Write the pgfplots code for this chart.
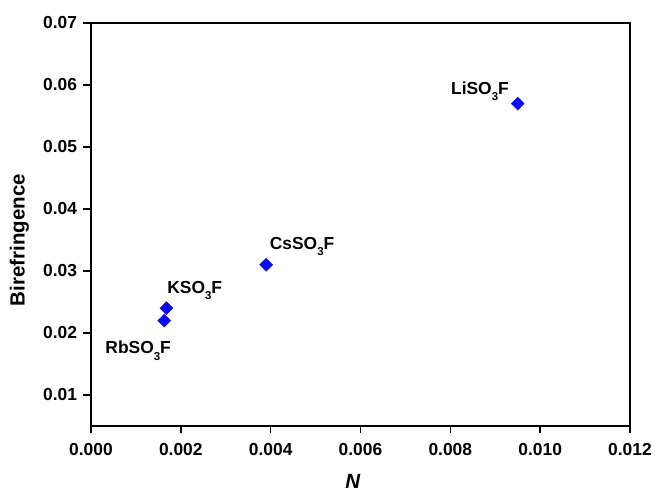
\documentclass[border=0pt]{standalone}
\usepackage{fontspec}
\setmainfont{Liberation Sans}
\usepackage{pgfplots}
\pgfplotsset{compat=1.18}
\newcommand\sub[1]{\raisebox{-6.5pt}{\fontsize{11.5}{12}\selectfont #1}}
\begin{document}
\begin{tikzpicture}[x=1pt,y=1pt]
\begin{axis}[
  name=ax,
  scale only axis,
  width=539pt, height=403pt,
  xmin=0, xmax=0.012, ymin=0.005, ymax=0.07,
  xtick={0,0.002,0.004,0.006,0.008,0.010,0.012},
  ytick={0.01,0.02,0.03,0.04,0.05,0.06,0.07},
  scaled ticks=false,
  /pgf/number format/assume math mode=true,
  xticklabel style={/pgf/number format/.cd,fixed,fixed zerofill,precision=3,/tikz/.cd,yshift=-6pt},
  yticklabel style={/pgf/number format/.cd,fixed,fixed zerofill,precision=2,/tikz/.cd,xshift=-3pt},
  tick label style={font=\fontsize{17.4}{19}\selectfont\bfseries},
  tick align=outside,
  xtick pos=bottom, ytick pos=left,
  major tick length=7.5pt,
  axis line style={line width=1.6pt},
  every tick/.style={line width=1.6pt,black},
  xlabel={\textbf{\textit{N}}},
  ylabel={\textbf{Birefringence}},
  label style={font=\fontsize{20.5}{22}\selectfont},
  xlabel style={at={(axis description cs:0.486,-0.138)},anchor=center},
  ylabel style={at={(axis description cs:-0.1327,0.4615)},anchor=center},
  clip=false,
]
\addplot[only marks, mark=square*, mark size=4.6pt, mark options={rotate=45}, color={rgb,255:red,10;green,10;blue,240}] coordinates {
  (0.0095,0.057)
  (0.0039,0.031)
  (0.00168,0.024)
  (0.00163,0.022)
};
\tikzset{lbl/.style={font=\fontsize{17.4}{19}\selectfont\bfseries,yshift=-3pt}}
\node[lbl] at (axis cs:0.00866,0.0595) {LiSO\sub{3}F};
\node[lbl] at (axis cs:0.0047,0.0344) {CsSO\sub{3}F};
\node[lbl] at (axis cs:0.00231,0.0273) {KSO\sub{3}F};
\node[lbl] at (axis cs:0.00105,0.0176) {RbSO\sub{3}F};
\end{axis}
\pgfresetboundingbox
\path[use as bounding box] ([xshift=-91pt,yshift=-68pt]ax.south west) rectangle ([xshift=29pt,yshift=23pt]ax.north east);
\end{tikzpicture}
\end{document}
